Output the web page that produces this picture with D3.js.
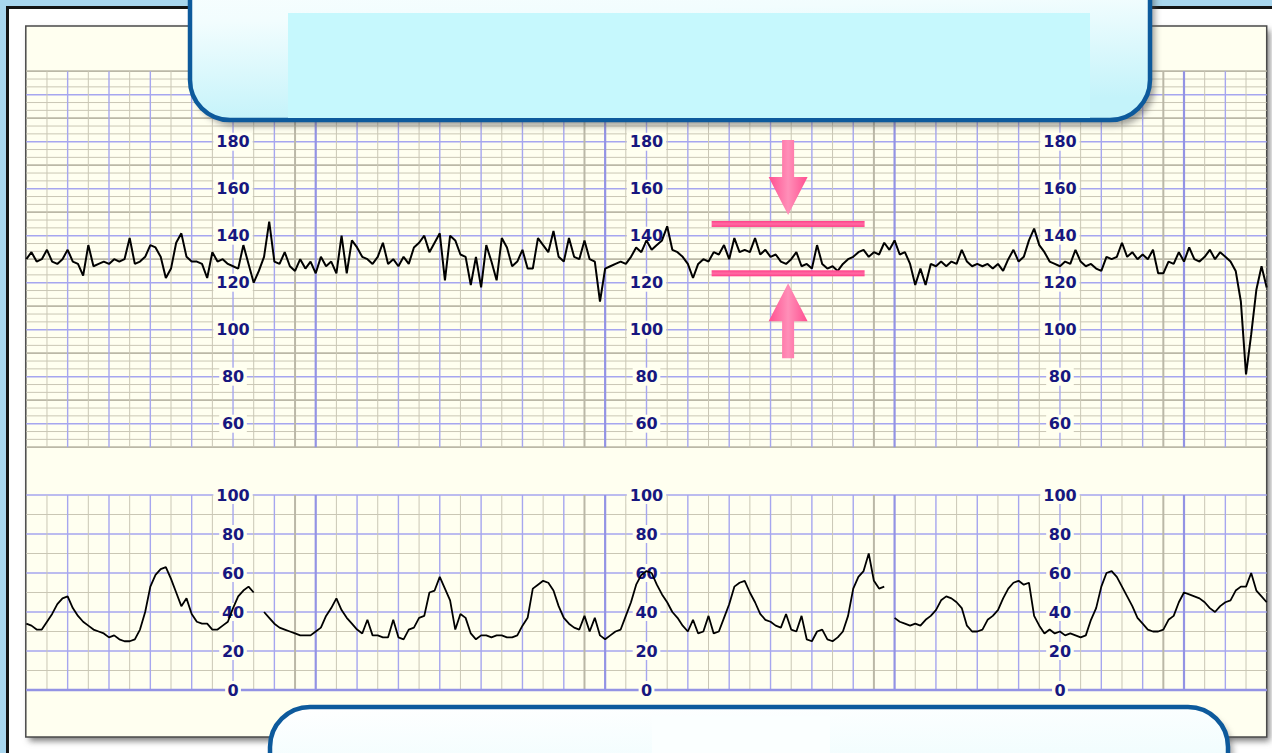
<!DOCTYPE html>
<html>
<head>
<meta charset="utf-8">
<script src="https://cdn.jsdelivr.net/npm/d3@7"></script>
<style>
  html, body { margin: 0; padding: 0; background: #a8d6ee; overflow: hidden; }
  svg { display: block; }
</style>
</head>
<body>
<svg id="chart" width="1272" height="753"></svg>
<script>
// ---- Data -----------------------------------------------------------
// Time runs in grid squares (60 squares across the strip); samples every 0.25 square.
const sampleStep = 0.25;
const stripSquares = 60;

// Fetal heart rate, bpm
const fhr = [
  130,133,129,130,134,129,128,130,134,129,128,123,136,127,128,129,128,130,129,130,
  139,128,129,131,136,135,131,122,126,137,141,131,129,129,128,122,133,129,130,128,
  127,126,136,128,120,125,131,146,129,128,133,127,125,130,126,129,124,131,127,129,
  124,140,124,138,135,131,130,128,131,137,128,130,127,131,128,135,137,140,133,137,
  141,121,140,138,132,131,119,131,118,136,129,121,139,135,127,129,134,126,126,139,
  136,133,142,131,129,139,131,130,138,130,129,112,126,127,128,129,128,131,135,133,
  138,134,136,138,144,134,133,131,128,122,128,130,129,133,132,136,130,139,133,134,
  133,139,132,134,131,132,129,128,130,133,127,128,126,136,128,126,127,125,128,130,
  131,133,134,131,133,132,137,134,138,132,133,128,119,126,119,128,127,129,127,129,
  128,134,129,127,128,127,128,126,128,125,130,134,129,131,138,143,136,133,129,128,
  127,129,128,134,129,127,128,126,125,131,130,131,137,131,133,130,132,130,134,124,
  124,129,128,133,129,135,130,129,131,134,130,133,131,129,125,112,81,98,117,127,
  118
];

// Uterine activity, mmHg (null = signal lost)
const ua = [
  34,33,31,31,35,39,44,47,48,42,38,35,33,31,30,29,27,28,26,25,
  25,26,31,40,53,59,62,63,57,50,43,47,39,35,34,34,31,31,33,35,
  42,48,51,53,50,null,40,37,34,32,31,30,29,28,28,28,30,32,38,42,
  47,41,37,34,31,29,36,28,28,27,27,36,27,26,31,32,37,38,50,51,
  58,52,46,31,39,37,29,26,28,28,27,28,28,27,27,28,33,37,52,54,
  56,55,51,43,37,34,32,31,38,30,37,28,26,28,30,31,38,45,54,59,
  61,60,54,49,45,40,37,33,30,36,29,30,38,29,30,37,44,53,55,56,
  50,45,39,36,35,33,32,39,31,30,38,26,25,30,31,26,25,27,30,38,
  52,58,61,70,56,52,53,null,37,35,34,33,34,33,36,38,41,46,48,47,
  45,42,33,30,30,31,36,38,41,47,52,55,56,54,55,38,33,29,31,29,
  30,28,29,28,27,28,36,42,53,60,61,58,53,48,43,37,34,31,30,30,
  31,36,38,45,50,49,48,47,45,42,40,43,45,46,51,53,53,60,51,48,
  45
];

const fhrTicks = [180, 160, 140, 120, 100, 80, 60];
const uaTicks = [100, 80, 60, 40, 20, 0];
const fhrRange = [50, 210];
const uaRange = [0, 100];
const labelColumns = [10, 30, 50];      // squares where the scale labels sit
const bandLimits = [124, 145];          // variability band, bpm
const bandSpan = [33.15, 40.55];        // squares

// ---- Layout ---------------------------------------------------------
const W = 1272, H = 753;
const paper = { x0: 26.3, x1: 1266.7, y0: 26, y1: 737 };
const fhrBox = { top: 71.2, bottom: 447.2 };
const uaBox = { top: 495, bottom: 690 };

const x = d3.scaleLinear().domain([0, stripSquares]).range([paper.x0, paper.x1]);
const yF = d3.scaleLinear().domain(fhrRange).range([fhrBox.bottom, fhrBox.top]);
const yU = d3.scaleLinear().domain(uaRange).range([uaBox.bottom, uaBox.top]);

const C = {
  bg: '#a8d6ee', paper: '#fffff0', grey: '#cac7b5', greyDark: '#bbb8a7',
  purple: '#a6a6ef', purpleDark: '#9393e4', label: '#17177f',
  frame: '#0d5a9c', pink: '#ff3f88'
};

const svg = d3.select('#chart');
const defs = svg.append('defs');
defs.append('filter').attr('id', 'blur3').attr('x', '-10%').attr('y', '-10%')
  .attr('width', '120%').attr('height', '120%')
  .append('feGaussianBlur').attr('stdDeviation', 3);

const boxGrad = defs.append('linearGradient').attr('id', 'boxGrad')
  .attr('x1', 0).attr('y1', 0).attr('x2', 0.15).attr('y2', 1);
boxGrad.append('stop').attr('offset', '0%').attr('stop-color', '#ffffff');
boxGrad.append('stop').attr('offset', '45%').attr('stop-color', '#f2fdfe');
boxGrad.append('stop').attr('offset', '100%').attr('stop-color', '#c4f3fa');

const pinkGrad = defs.append('linearGradient').attr('id', 'pinkGrad')
  .attr('x1', 0).attr('y1', 0).attr('x2', 1).attr('y2', 0);
pinkGrad.append('stop').attr('offset', '0%').attr('stop-color', '#ff4f90');
pinkGrad.append('stop').attr('offset', '50%').attr('stop-color', '#ff8fb8');
pinkGrad.append('stop').attr('offset', '100%').attr('stop-color', '#ff4f90');

const barGrad = defs.append('linearGradient').attr('id', 'barGrad')
  .attr('x1', 0).attr('y1', 0).attr('x2', 0).attr('y2', 1);
barGrad.append('stop').attr('offset', '0%').attr('stop-color', '#ff3f88');
barGrad.append('stop').attr('offset', '50%').attr('stop-color', '#ff6aa3');
barGrad.append('stop').attr('offset', '100%').attr('stop-color', '#ff3f88');

// ---- Background, frame and paper -----------------------------------
svg.append('rect').attr('width', W).attr('height', H).attr('fill', C.bg);
svg.append('rect').attr('x', 7.5).attr('y', 7.5).attr('width', 1300).attr('height', 800)
  .attr('fill', '#ffffff').attr('stroke', '#141414').attr('stroke-width', 3);
svg.append('rect').attr('x', paper.x0 + 3).attr('y', paper.y0 + 4)
  .attr('width', paper.x1 - paper.x0).attr('height', paper.y1 - paper.y0)
  .attr('fill', '#7a7a7a').attr('filter', 'url(#blur3)');
svg.append('rect').attr('x', paper.x0 - 0.5).attr('y', paper.y0)
  .attr('width', paper.x1 - paper.x0 + 0.5).attr('height', paper.y1 - paper.y0)
  .attr('fill', C.paper).attr('stroke', '#4a4a4a').attr('stroke-width', 1.5);

// ---- Chart paper grid ----------------------------------------------
const grid = svg.append('g').attr('class', 'grid');

function hLines(values, scale, styleOf) {
  grid.selectAll(null).data(values).enter().append('line')
    .attr('x1', paper.x0).attr('x2', paper.x1)
    .attr('y1', d => scale(d)).attr('y2', d => scale(d))
    .each(function (d) { const s = styleOf(d); d3.select(this).attr('stroke', s[0]).attr('stroke-width', s[1]); });
}
const near = (a, m) => Math.abs(a / m - Math.round(a / m)) < 1e-6;

// heart-rate panel: sixths of 20 bpm
const fhrLines = d3.range(0, 49).map(k => fhrRange[0] + k * 10 / 3);
hLines(fhrLines, yF, v => near(v, 20) ? [C.purple, 1.6] : near(v, 10) ? [C.greyDark, 1.8] : [C.grey, 1]);
// contraction panel: every 10
const uaLines = d3.range(0, 101, 10);
hLines(uaLines, yU, v => near(v, 20) ? [C.purple, 1.6] : [C.grey, 1.2]);

// vertical lines in both panels
const cols = d3.range(1, stripSquares);
[[fhrBox.top, fhrBox.bottom], [uaBox.top, uaBox.bottom]].forEach(([t, b]) => {
  grid.selectAll(null).data(cols).enter().append('line')
    .attr('x1', d => x(d)).attr('x2', d => x(d))
    .attr('y1', t).attr('y2', b)
    .attr('stroke', d => d % 14 === 0 ? C.purpleDark : d % 14 === 13 ? C.greyDark : d % 2 === 0 ? C.purple : C.grey)
    .attr('stroke-width', d => d % 14 === 0 ? 2.2 : d % 14 === 13 ? 2 : d % 2 === 0 ? 1.4 : 1);
});
// panel bottom edges
grid.append('line').attr('x1', paper.x0).attr('x2', paper.x1).attr('y1', uaBox.bottom).attr('y2', uaBox.bottom)
  .attr('stroke', C.purpleDark).attr('stroke-width', 2.4);

// ---- Scale labels ---------------------------------------------------
const labels = svg.append('g').attr('font-family', 'DejaVu Sans, Verdana, sans-serif')
  .attr('font-weight', 'bold').attr('font-size', 16).attr('fill', C.label);

function drawLabels(ticks, scale) {
  labelColumns.forEach(col => {
    const g = labels.selectAll(null).data(ticks).enter().append('g')
      .attr('transform', d => `translate(${x(col)},${scale(d)})`);
    g.append('rect').attr('x', d => -String(d).length * 5.9 - 2).attr('y', -9)
      .attr('width', d => String(d).length * 11.8 + 4).attr('height', 18).attr('fill', C.paper);
    g.append('text').attr('text-anchor', 'middle').attr('dy', '0.36em').text(d => d);
  });
}
drawLabels(fhrTicks, yF);
drawLabels(uaTicks, yU);

// ---- Traces ---------------------------------------------------------
const fhrLine = d3.line().defined(d => d != null)
  .x((d, i) => x(i * sampleStep)).y(d => yF(d));
const uaLine = d3.line().defined(d => d != null)
  .x((d, i) => x(i * sampleStep)).y(d => yU(d));

svg.append('path').datum(fhr).attr('d', fhrLine).attr('fill', 'none')
  .attr('stroke', '#000').attr('stroke-width', 2).attr('stroke-linejoin', 'bevel');
svg.append('path').datum(ua).attr('d', uaLine).attr('fill', 'none')
  .attr('stroke', '#000').attr('stroke-width', 1.8).attr('stroke-linejoin', 'bevel');

// ---- Variability band markers ----------------------------------------
const band = svg.append('g');
band.selectAll(null).data(bandLimits).enter().append('rect')
  .attr('x', x(bandSpan[0])).attr('width', x(bandSpan[1]) - x(bandSpan[0]))
  .attr('y', d => yF(d) - 3).attr('height', 6).attr('fill', 'url(#barGrad)');

const ax = x((bandSpan[0] + bandSpan[1]) / 2);
function arrow(tipY, dir) {
  // dir = +1 points down, -1 points up
  const headLen = 38, shaftLen = 37, headHalf = 19.5, shaftHalf = 6;
  const baseY = tipY - dir * headLen, endY = baseY - dir * shaftLen;
  const p = d3.path();
  p.moveTo(ax, tipY);
  p.lineTo(ax - headHalf, baseY);
  p.lineTo(ax - shaftHalf, baseY);
  p.lineTo(ax - shaftHalf, endY);
  p.lineTo(ax + shaftHalf, endY);
  p.lineTo(ax + shaftHalf, baseY);
  p.lineTo(ax + headHalf, baseY);
  p.closePath();
  band.append('path').attr('d', p.toString()).attr('fill', 'url(#pinkGrad)');
}
arrow(yF(bandLimits[1]) - 9, 1);
arrow(yF(bandLimits[0]) + 10, -1);

// ---- Caption panels ---------------------------------------------------
function panel(px, py, pw, ph) {
  svg.append('rect').attr('x', px + 5).attr('y', py + 6).attr('width', pw).attr('height', ph)
    .attr('rx', 40).attr('fill', '#555').attr('opacity', 0.55).attr('filter', 'url(#blur3)');
  svg.append('rect').attr('x', px).attr('y', py).attr('width', pw).attr('height', ph)
    .attr('rx', 40).attr('fill', 'url(#boxGrad)').attr('stroke', C.frame).attr('stroke-width', 4.5);
}
panel(190, -60, 960, 180);
svg.append('rect').attr('x', 288).attr('y', 13).attr('width', 802).attr('height', 105).attr('fill', '#c6f8fd');

panel(270, 707, 958, 140);
svg.append('rect').attr('x', 652).attr('y', 716).attr('width', 178).attr('height', 40).attr('fill', '#fbffff');
</script>
</body>
</html>
